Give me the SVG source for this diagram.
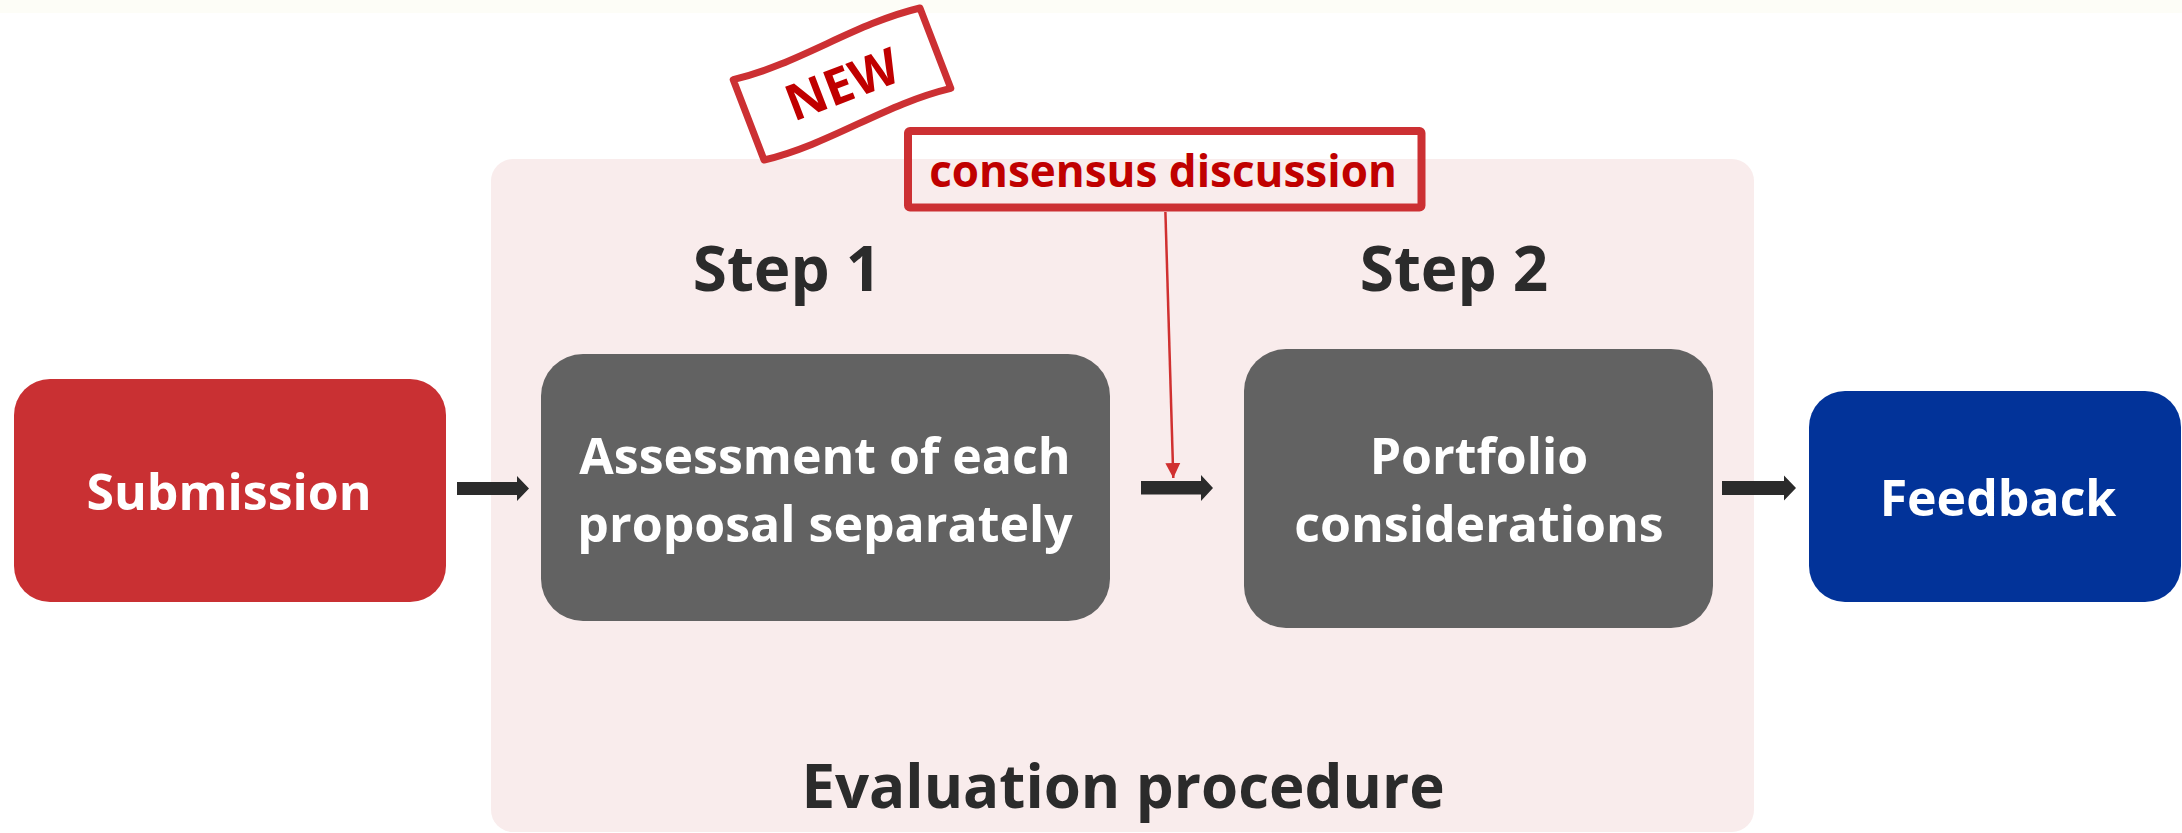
<svg xmlns="http://www.w3.org/2000/svg" width="2182" height="833" viewBox="0 0 2182 833">
  <style>
    .t { font-family: "Open Sans", "Liberation Sans", sans-serif; font-weight: bold; text-anchor: middle; }
    .w { fill: #FFFFFF; font-size: 50px; }
    .step { fill: #2B2B2B; font-size: 62px; }
    .title { fill: #2B2B2B; font-size: 60px; }
    .red { fill: #C00000; }
    .blk { fill: #2B2B2B; }
  </style>
  <defs>
    <marker id="redHead" markerUnits="userSpaceOnUse" markerWidth="16" markerHeight="16" refX="15" refY="8" orient="auto">
      <path d="M0,0.5 L15,8 L0,15.5 Z" fill="#D03030"/>
    </marker>
  </defs>
  <rect x="0" y="0" width="2182" height="833" fill="#FFFFFF"/>
  <rect x="0" y="0" width="2182" height="13" fill="#FDFDF7"/>

  <g id="evaluation-procedure">
    <rect x="491" y="159" width="1263" height="673" rx="22" fill="#F9ECEC"/>
    <text class="t title" x="1123" y="808">Evaluation procedure</text>
    <text class="t step" x="787" y="291">Step 1</text>
    <text class="t step" x="1454" y="291">Step 2</text>
  </g>

  <g id="submission">
    <rect x="14" y="379" width="432" height="223" rx="36" fill="#C93033"/>
    <text class="t w" x="229" y="510">Submission</text>
  </g>

  <g id="step1">
    <rect x="541" y="354" width="569" height="267" rx="42" fill="#626262"/>
    <text class="t w" x="825" y="474">Assessment of each</text>
    <text class="t w" x="825" y="542">proposal separately</text>
  </g>

  <g id="step2">
    <rect x="1244" y="349" width="469" height="279" rx="42" fill="#626262"/>
    <text class="t w" x="1479" y="474">Portfolio</text>
    <text class="t w" x="1479" y="542">considerations</text>
  </g>

  <g id="feedback">
    <rect x="1809" y="391" width="372" height="211" rx="36" fill="#023399"/>
    <text class="t w" x="1998" y="516">Feedback</text>
  </g>

  <g id="consensus-discussion">
    <rect x="908" y="131" width="513.5" height="76.5" rx="2" fill="none" stroke="#CC3033" stroke-width="8"/>
    <text class="t red" x="1163" y="187" font-size="44">consensus discussion</text>
  </g>

  <g id="new-badge" transform="translate(842,84) rotate(-21)">
    <path d="M-100,-43 C-33,-34 33,-52 100,-43 L100,43 C33,34 -33,52 -100,43 Z" fill="#FFFFFF" stroke="#CC3033" stroke-width="7" stroke-linejoin="round"/>
    <text class="t red" x="0" y="18" font-size="50">NEW</text>
  </g>

  <g id="connectors">
    <polygon class="blk" points="457,482 517,482 517,476 529,488.5 517,501 517,495 457,495"/>
    <polygon class="blk" points="1141,481 1201,481 1201,475 1213,488 1201,501 1201,494.5 1141,494.5"/>
    <polygon class="blk" points="1722,481 1784,481 1784,475.5 1796,488 1784,500.5 1784,495 1722,495"/>
    <line x1="1165.4" y1="212" x2="1173.3" y2="478" stroke="#D03030" stroke-width="2.5" marker-end="url(#redHead)"/>
  </g>
</svg>
